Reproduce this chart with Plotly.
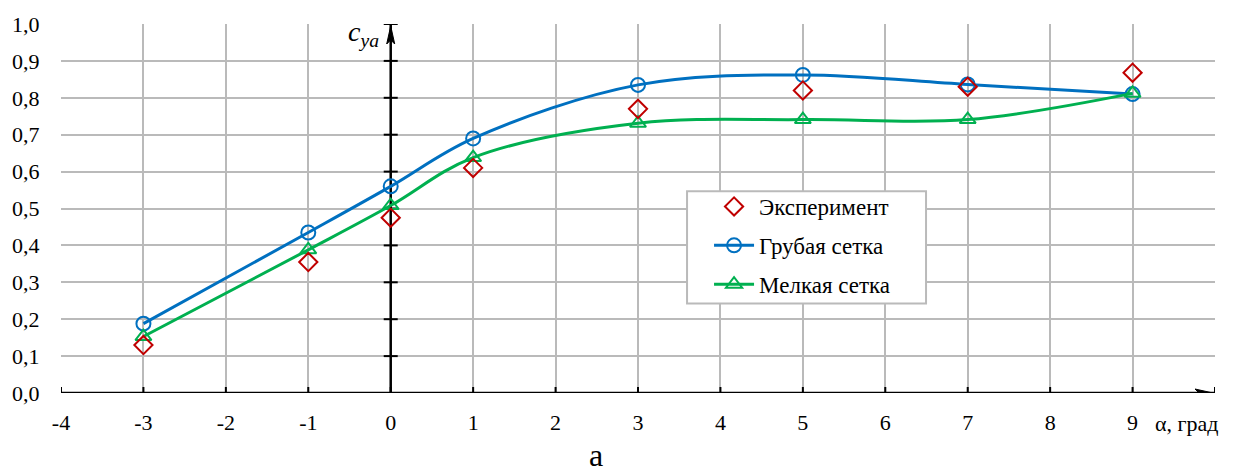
import plotly.graph_objects as go

# ---- data ----
alpha = [-3, -1, 0, 1, 3, 5, 7, 9]
exp_vals = [0.13, 0.355, 0.475, 0.61, 0.77, 0.82, 0.83, 0.868]
coarse_vals = [0.188, 0.435, 0.56, 0.69, 0.835, 0.862, 0.836, 0.81]
fine_vals = [0.153, 0.388, 0.508, 0.638, 0.731, 0.741, 0.741, 0.812]

x_ticks = [-4, -3, -2, -1, 0, 1, 2, 3, 4, 5, 6, 7, 8, 9, 10]
x_ticktext = ["-4", "-3", "-2", "-1", "0", "1", "2", "3", "4", "5", "6", "7", "8", "9", " "]
y_ticks = [0.0, 0.1, 0.2, 0.3, 0.4, 0.5, 0.6, 0.7, 0.8, 0.9, 1.0]
y_ticktext = ["0,0", "0,1", "0,2", "0,3", "0,4", "0,5", "0,6", "0,7", "0,8", "0,9", "1,0"]

names = ["Эксперимент", "Грубая сетка", "Мелкая сетка"]

RED = "#C00000"
BLUE = "#0070C0"
GREEN = "#00B050"
GRID = "#BABABA"
FONT = "Liberation Serif, Times New Roman, serif"

fig = go.Figure()

fig.add_trace(go.Scatter(
    x=alpha, y=coarse_vals, name=names[1], mode="lines+markers",
    line=dict(color=BLUE, width=3, shape="spline", smoothing=1),
    marker=dict(symbol="circle-open", size=14, color=BLUE, line=dict(width=2, color=BLUE)),
    legendrank=2, legendgroup="b"))
fig.add_trace(go.Scatter(
    x=alpha, y=fine_vals, name=names[2], mode="lines+markers",
    line=dict(color=GREEN, width=3, shape="spline", smoothing=1),
    marker=dict(symbol="triangle-up-open", size=14, color=GREEN, line=dict(width=2, color=GREEN)),
    legendrank=3, legendgroup="c"))
fig.add_trace(go.Scatter(
    x=alpha, y=exp_vals, name=names[0], mode="markers",
    marker=dict(symbol="diamond-open", size=14, color=RED, line=dict(width=2, color=RED)),
    legendrank=1, legendgroup="a"))

shapes = []
# black axes
shapes.append(dict(type="line", xref="x", yref="y", x0=x_ticks[0], x1=x_ticks[-1], y0=0, y1=0,
                   line=dict(color="black", width=2.5), layer="between"))
shapes.append(dict(type="line", xref="x", yref="y", x0=0, x1=0, y0=0, y1=y_ticks[-1],
                   line=dict(color="black", width=2.5), layer="between"))
for t in x_ticks:
    shapes.append(dict(type="line", xref="x", yref="y", ysizemode="pixel", yanchor=0,
                       x0=t, x1=t, y0=-6, y1=6, line=dict(color="black", width=2), layer="between"))
for v in y_ticks[1:]:
    shapes.append(dict(type="line", xref="x", yref="y", xsizemode="pixel", xanchor=0,
                       x0=-7, x1=7, y0=v, y1=v, line=dict(color="black", width=2), layer="between"))
# arrow heads (pixel-sized paths anchored to the axis ends)
shapes.append(dict(type="path", xref="x", yref="y", xsizemode="pixel", ysizemode="pixel",
                   xanchor=0, yanchor=y_ticks[-1],
                   path="M 0 -2 L -4 -20 L 0 -16 L 4 -20 Z",
                   fillcolor="black", line=dict(color="black", width=1), layer="between"))
shapes.append(dict(type="path", xref="x", yref="y", xsizemode="pixel", ysizemode="pixel",
                   xanchor=x_ticks[-1], yanchor=0,
                   path="M -2 0 L -20 4 L -16 0 L -20 -4 Z",
                   fillcolor="black", line=dict(color="black", width=1), layer="between"))
# legend frame (legend itself is drawn transparently on top)
shapes.append(dict(type="rect", xref="paper", yref="paper",
                   x0=0.5425, x1=0.7496, y0=0.2427, y1=0.5467,
                   fillcolor="white", line=dict(color=GRID, width=2), layer="above"))

annotations = [
    dict(x=0, y=0.975, xref="x", yref="y", xanchor="right", yanchor="middle", xshift=-10,
         text="<i>c</i><sub><i>ya</i></sub>", showarrow=False,
         font=dict(family=FONT, size=28, color="black")),
    dict(x=10, y=0, xref="x", yref="y", xanchor="right", yanchor="middle", xshift=6, yshift=-30,
         text="α, град", showarrow=False, font=dict(family=FONT, size=22, color="black")),
    dict(x=0.4636, y=0, xref="paper", yref="paper", xanchor="center", yanchor="middle", yshift=-62,
         text="а", showarrow=False, font=dict(family=FONT, size=32, color="black")),
]

fig.update_layout(
    width=1235, height=472,
    margin=dict(l=61, r=20, t=18, b=79),
    paper_bgcolor="white", plot_bgcolor="white",
    font=dict(family=FONT, size=22, color="black"),
    shapes=shapes, annotations=annotations,
    showlegend=True,
    legend=dict(x=0.5425, y=0.5637, xanchor="left", yanchor="top",
                bgcolor="rgba(0,0,0,0)", borderwidth=0,
                font=dict(family=FONT, size=23, color="black"),
                tracegroupgap=6, itemwidth=40, indentation=22),
    xaxis=dict(range=[x_ticks[0], x_ticks[-1]], tickmode="array", tickvals=x_ticks, ticktext=x_ticktext,
               showgrid=True, gridcolor=GRID, gridwidth=2, zeroline=False, showline=False,
               ticks="outside", ticklen=10, tickcolor="rgba(0,0,0,0)",
               tickfont=dict(family=FONT, size=22)),
    yaxis=dict(range=[y_ticks[0], y_ticks[-1]], tickmode="array", tickvals=y_ticks, ticktext=y_ticktext,
               showgrid=True, gridcolor=GRID, gridwidth=2, zeroline=False, showline=False,
               ticks="outside", ticklen=16, tickcolor="rgba(0,0,0,0)",
               tickfont=dict(family=FONT, size=22)),
)

fig.write_html("out.html")
